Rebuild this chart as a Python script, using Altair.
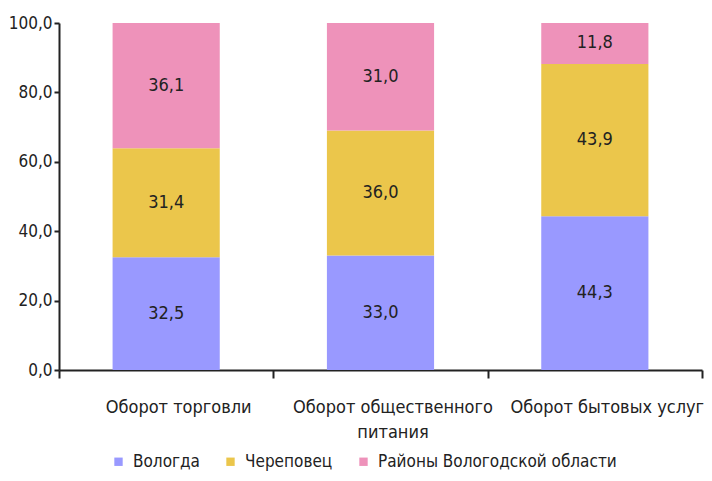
import altair as alt
import pandas as pd

categories = ["Оборот торговли", "Оборот общественного|питания", "Оборот бытовых услуг"]
series = ["Вологда", "Череповец", "Районы Вологодской области"]
vologda = [32.5, 33.0, 44.3]
cherepovets = [31.4, 36.0, 43.9]
rayony = [36.1, 31.0, 11.8]
colors = ["#9999FF", "#EBC64B", "#EE92BA"]

rows = []
for i, c in enumerate(categories):
    for j, (s, vals) in enumerate(zip(series, [vologda, cherepovets, rayony])):
        rows.append({"cat": c, "series": s, "value": vals[i], "ord": j})
df = pd.DataFrame(rows)

FONT = "Liberation Sans Narrow, DejaVu Sans Condensed, Roboto Condensed, sans-serif"

base = alt.Chart(df)

x = alt.X("cat:N", sort=categories, title=None,
          scale=alt.Scale(paddingInner=0, paddingOuter=0),
          axis=alt.Axis(labelAngle=0, labelExpr="split(datum.label, '|')",
                        labelFontSize=18, labelFont=FONT, labelColor="#222",
                        labelLineHeight=25, labelPadding=20, labelOffset=12,
                        labelLimit=0,
                        tickBand="extent", tickSize=8, tickWidth=2, tickColor="#222",
                        domainColor="#222", domainWidth=2))

bars = base.mark_bar(width={"band": 0.5}).encode(
    x=x,
    y=alt.Y("value:Q", stack="zero", title=None,
            scale=alt.Scale(domain=[0, 100], nice=False),
            axis=alt.Axis(values=[0, 20, 40, 60, 80, 100], grid=False,
                          labelExpr="replace(format(datum.value, '.1f'), '.', ',')",
                          labelFontSize=17, labelFont=FONT, labelColor="#222",
                          tickSize=5, tickWidth=2, tickColor="#222", labelPadding=2,
                          domainColor="#222", domainWidth=2)),
    color=alt.Color("series:N", sort=series,
                    scale=alt.Scale(domain=series, range=colors),
                    legend=alt.Legend(orient="none", direction="horizontal",
                                      legendX=51, legendY=430, title=None,
                                      symbolType="square", symbolSize=70,
                                      symbolStrokeWidth=0, labelLimit=0,
                                      labelFontSize=17, labelFont=FONT, labelColor="#222",
                                      columnPadding=22, labelOffset=6)),
    order=alt.Order("ord:Q", sort="ascending"),
)

text = base.transform_window(
    cum="sum(value)", groupby=["cat"], sort=[alt.SortField("ord", order="ascending")]
).transform_calculate(
    mid="datum.cum - datum.value / 2",
    lbl="replace(format(datum.value, '.1f'), '.', ',')",
).mark_text(fontSize=18, font=FONT, color="#222").encode(
    x=alt.X("cat:N", sort=categories),
    y=alt.Y("mid:Q"),
    text="lbl:N",
)

chart = (bars + text).properties(
    width=643, height=347,
    autosize=alt.AutoSizeParams(type="none"),
    padding={"left": 51, "top": 15, "right": 2, "bottom": 103},
).configure_view(stroke=None)

chart.save("out.html", embed_options={"renderer": "svg", "actions": False})
